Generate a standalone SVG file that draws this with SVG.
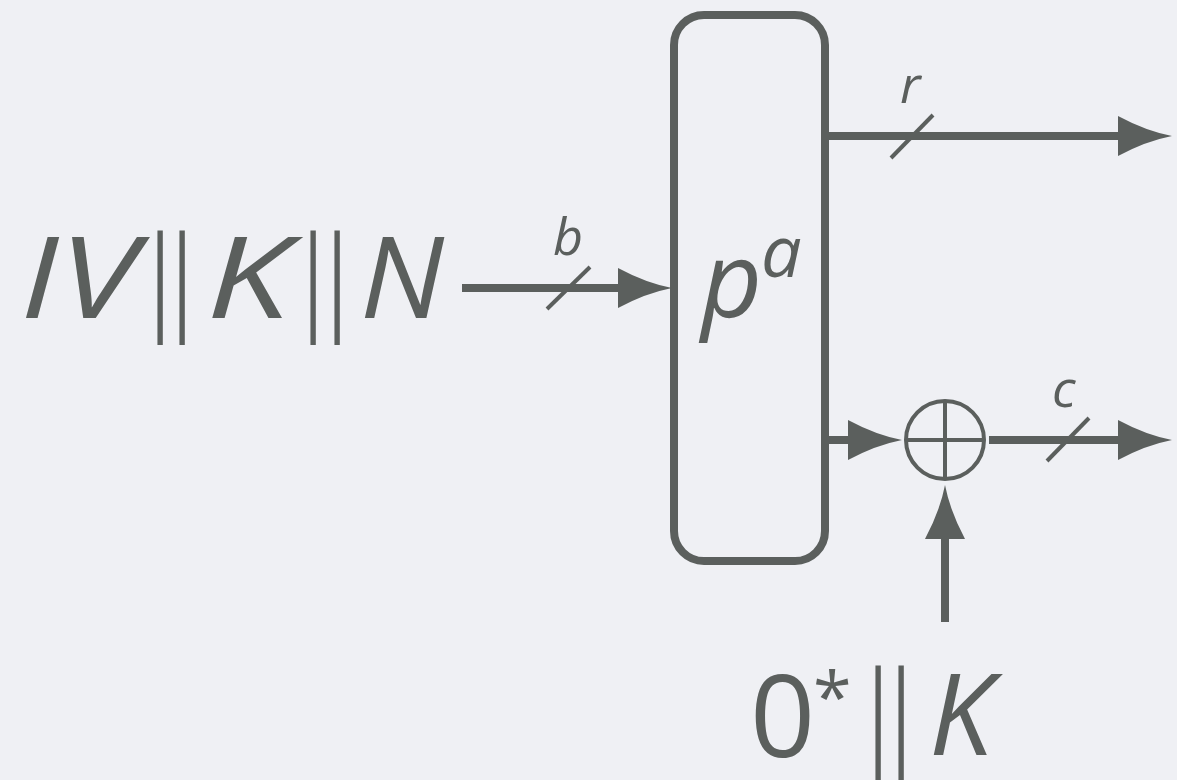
<svg xmlns="http://www.w3.org/2000/svg" width="1177" height="780" viewBox="0 0 1177 780">
<style>
.bg{fill:#eff0f4}
.ln{stroke:#5b5f5d;stroke-width:8;fill:none}
.thin{stroke:#5b5f5d;stroke-width:4;fill:none}
.ah{fill:#5b5f5d}
.t{font-family:"Open Sans","Noto Sans",sans-serif;fill:#5b5f5d}
.it{font-style:italic}
.bar{font-family:"DejaVu Sans",sans-serif;font-weight:200;fill:#5b5f5d;font-size:114px;text-anchor:middle}
</style>
<defs>
<path id="ah" d="M0,0 Q-26,-5 -54,-20 L-54,20 Q-26,5 0,0 Z"/>
</defs>
<rect class="bg" width="1177" height="780"/>
<g id="input">
<text class="t it" x="20" y="318" font-size="114" textLength="117" lengthAdjust="spacingAndGlyphs">IV</text>
<text class="bar" x="160" y="318">|</text>
<text class="bar" x="182" y="318">|</text>
<text class="t it" x="206" y="318" font-size="114" textLength="84" lengthAdjust="spacingAndGlyphs">K</text>
<text class="bar" x="313" y="318">|</text>
<text class="bar" x="337" y="318">|</text>
<text class="t it" x="360" y="318" font-size="114" textLength="84" lengthAdjust="spacingAndGlyphs">N</text>
</g>
<g id="perm">
<rect class="ln" x="674" y="15" width="151" height="546" rx="30"/>
<text class="t it" x="701" y="318" font-size="106">p</text>
<text class="t it" x="761" y="277" font-size="72">a</text>
</g>
<g id="xor">
<circle class="thin" cx="945" cy="440" r="39"/>
<line class="thin" x1="906" y1="440" x2="984" y2="440"/>
<line class="thin" x1="945" y1="401" x2="945" y2="479"/>
</g>
<g id="key">
<text class="t" x="750" y="757" font-size="114">0</text>
<text class="t" x="813" y="722" font-size="70">*</text>
<text class="bar" x="878" y="753">|</text>
<text class="bar" x="901" y="753">|</text>
<text class="t it" x="929" y="755" font-size="114">K</text>
</g>
<g id="connectors">
<line class="ln" x1="462" y1="288" x2="630" y2="288"/>
<use href="#ah" class="ah" transform="translate(672,288)"/>
<line class="thin" x1="547" y1="309" x2="590" y2="267"/>
<text class="t it" x="553" y="255" font-size="52">b</text>

<line class="ln" x1="825" y1="136" x2="1130" y2="136"/>
<use href="#ah" class="ah" transform="translate(1172,136)"/>
<line class="thin" x1="891" y1="158" x2="933" y2="115"/>
<text class="t it" x="900" y="103" font-size="52">r</text>

<line class="ln" x1="825" y1="440" x2="860" y2="440"/>
<use href="#ah" class="ah" transform="translate(902,440)"/>

<line class="ln" x1="989" y1="440" x2="1140" y2="440"/>
<use href="#ah" class="ah" transform="translate(1172,440)"/>
<line class="thin" x1="1047" y1="461" x2="1089" y2="418"/>
<text class="t it" x="1052" y="407" font-size="52">c</text>

<line class="ln" x1="945" y1="622" x2="945" y2="525"/>
<use href="#ah" class="ah" transform="translate(945,485) rotate(-90)"/>
</g>
</svg>
